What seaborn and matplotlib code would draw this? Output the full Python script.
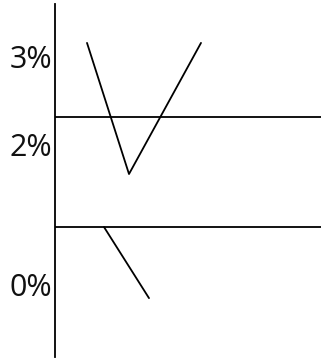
import matplotlib
matplotlib.use("Agg")
import matplotlib.pyplot as plt
import seaborn as sns
import pandas as pd

# data (hand-drawn sketch; y in "level" units, x in arbitrary units)
v_x = [32.5, 74.5, 146.5]
v_y = [3.16, 1.67, 3.16]
seg_x = [49.5, 94.5]
seg_y = [1.068, 0.26]
hline_y = [2.32, 1.068]
tick_pos = [3.0, 2.0, 0.41]
tick_labels = ["3%", "2%", "0%"]

sns.set_theme(style="white")
plt.rcParams['font.family'] = ['Open Sans', 'DejaVu Sans']

fig = plt.figure(figsize=(3.21, 3.58), dpi=100)
ax = fig.add_axes([54.5 / 321, 1 - 357 / 358, 1 - 54.5 / 321, 353 / 358])

df_v = pd.DataFrame({"x": v_x, "y": v_y})
df_s = pd.DataFrame({"x": seg_x, "y": seg_y})
sns.lineplot(data=df_v, x="x", y="y", ax=ax, color="black", lw=1.3, sort=False)
sns.lineplot(data=df_s, x="x", y="y", ax=ax, color="black", lw=1.3, sort=False)
for h in hline_y:
    ax.axhline(h, color="black", lw=1.3)

ax.set_xlim(0, 266.5)
ax.set_ylim(-0.409, 3.602)
ax.set_yticks(tick_pos)
ax.set_yticklabels(tick_labels, fontsize=22, color="#111111")
ax.set_xticks([])
ax.set_xlabel("")
ax.set_ylabel("")
ax.tick_params(axis="y", length=0, pad=1.5)
for s in ["top", "right", "bottom"]:
    ax.spines[s].set_visible(False)
ax.spines["left"].set_color("black")
ax.spines["left"].set_linewidth(1.3)
ax.patch.set_alpha(0)

fig.savefig("out.png", dpi=100)
